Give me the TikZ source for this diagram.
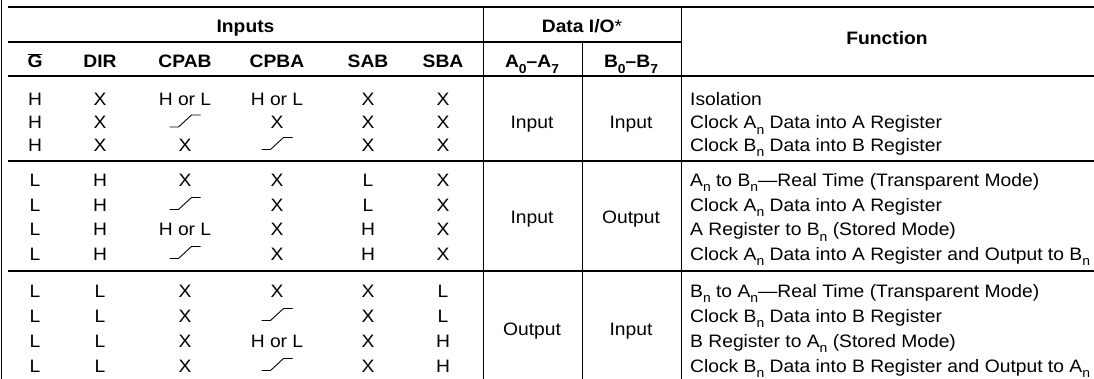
\documentclass[tikz,border=0pt]{standalone}
\usepackage{fontspec}
\setmainfont{Liberation Sans}[FakeStretch=1.07]

\newcommand\tabfont{\fontsize{18}{18}\selectfont}
\newcommand\sbs[1]{\raisebox{-0.28em}{\fontsize{13}{13}\selectfont #1}}
\newcommand\rise{\tikz[baseline=-2pt,line width=0.9pt]\draw (0pt,0pt) -- (9pt,0pt) -- (22pt,12pt) -- (31pt,12pt);}
\newcommand\gbar{$\overline{\mbox{G}}$}

\tikzset{
  rule/.style={line width=1.4pt},
  vrule/.style={line width=1pt},
  cell/.style={anchor=base, inner sep=0pt},
  hcell/.style={cell, font=\tabfont\bfseries},
  func/.style={anchor=base west, inner sep=0pt},
}

\begin{document}
\begin{tikzpicture}[x=1pt,y=-1pt,font=\tabfont]
    \useasboundingbox (0,0) rectangle (1094,379);

    % rules of the table
    \draw[vrule] (1,0) -- (1,379);
    \draw[rule] (8,7) -- (1094,7);
    \draw[rule] (8,42) -- (681,42);
    \draw[rule] (8,76) -- (1094,76);
    \draw[rule] (8,161) -- (1094,161);
    \draw[rule] (8,271) -- (1094,271);
    \draw[vrule] (483,7) -- (483,379);
    \draw[vrule] (582,42) -- (582,379);
    \draw[vrule] (681,7) -- (681,379);

    % headings
    \node[hcell] (inputs) at (245.5,33) {Inputs};
    \node[hcell] (dataio) at (582,33) {Data I/O\textmd{*}};
    \node[hcell] (function) at (887,45) {Function};

    \node[hcell] (hg) at (35,68) {\gbar};
    \node[hcell] (hdir) at (100,68) {DIR};
    \node[hcell] (hcpab) at (185,68) {CPAB};
    \node[hcell] (hcpba) at (277,68) {CPBA};
    \node[hcell] (hsab) at (368,68) {SAB};
    \node[hcell] (hsba) at (443,68) {SBA};
    \node[hcell] (ha) at (532,68) {A\sbs{0}--A\sbs{7}};
    \node[hcell] (hb) at (631,68) {B\sbs{0}--B\sbs{7}};

    % input levels and functions
    \foreach \y/\g/\d/\ca/\cb/\sa/\sb/\f [count=\r] in {
        105.5/H/X/H or L/H or L/X/X/{Isolation},
        129/H/X/\rise/X/X/X/{Clock A\sbs{n} Data into A Register},
        151.5/H/X/X/\rise/X/X/{Clock B\sbs{n} Data into B Register},
        186.5/L/H/X/X/L/X/{A\sbs{n} to B\sbs{n}---Real Time (Transparent Mode)},
        211.5/L/H/\rise/X/L/X/{Clock A\sbs{n} Data into A Register},
        236/L/H/H or L/X/H/X/{A Register to B\sbs{n} (Stored Mode)},
        260.5/L/H/\rise/X/H/X/{Clock A\sbs{n} Data into A Register and Output to B\sbs{n}},
        297.5/L/L/X/X/X/L/{B\sbs{n} to A\sbs{n}---Real Time (Transparent Mode)},
        322.5/L/L/X/\rise/X/L/{Clock B\sbs{n} Data into B Register},
        347.5/L/L/X/H or L/X/H/{B Register to A\sbs{n} (Stored Mode)},
        372.5/L/L/X/\rise/X/H/{Clock B\sbs{n} Data into B Register and Output to A\sbs{n}}}
    {
        \node[cell] (g\r) at (35,\y) {\g};
        \node[cell] (dir\r) at (100,\y) {\d};
        \node[cell] (cpab\r) at (185,\y) {\ca};
        \node[cell] (cpba\r) at (277,\y) {\cb};
        \node[cell] (sab\r) at (368,\y) {\sa};
        \node[cell] (sba\r) at (443,\y) {\sb};
        \node[func] (fn\r) at (690,\y) {\f};
    }

    % data i/o
    \node[cell] (ioa1) at (532,129) {Input};
    \node[cell] (iob1) at (631,129) {Input};
    \node[cell] (ioa2) at (532,224) {Input};
    \node[cell] (iob2) at (631,224) {Output};
    \node[cell] (ioa3) at (532,335.5) {Output};
    \node[cell] (iob3) at (631,335.5) {Input};

\end{tikzpicture}
\end{document}
